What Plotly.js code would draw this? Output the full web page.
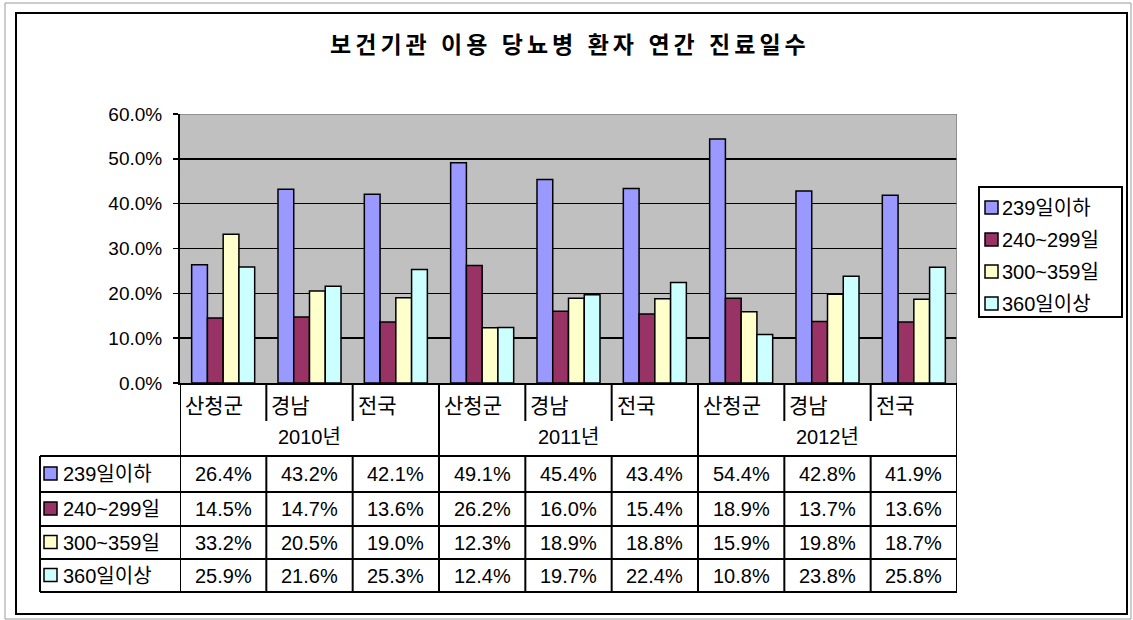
<!DOCTYPE html>
<html>
<head>
<meta charset="utf-8">
<script src="https://cdn.plot.ly/plotly-3.0.1.min.js"></script>
<style>
html,body{margin:0;padding:0;background:#fff;}
#chart{width:1133px;height:620px;}
#chart .gtitle{letter-spacing:4px;}
</style>
</head>
<body>
<div id="chart"></div>
<script>
// ---- data ----
var categories = ['산청군','경남','전국','산청군','경남','전국','산청군','경남','전국'];
var years = ['2010년','2011년','2012년'];
var seriesNames = ['239일이하','240~299일','300~359일','360일이상'];
var s239 = [26.4, 43.2, 42.1, 49.1, 45.4, 43.4, 54.4, 42.8, 41.9];
var s240 = [14.5, 14.7, 13.6, 26.2, 16.0, 15.4, 18.9, 13.7, 13.6];
var s300 = [33.2, 20.5, 19.0, 12.3, 18.9, 18.8, 15.9, 19.8, 18.7];
var s360 = [25.9, 21.6, 25.3, 12.4, 19.7, 22.4, 10.8, 23.8, 25.8];
var yTicks = [0, 10, 20, 30, 40, 50, 60];

// ---- styling ----
var W = 1133, H = 620;
var colors = ['#9999FF', '#993366', '#FFFFCC', '#CCFFFF'];
var FONT = 'Liberation Sans, Arial, "Noto Sans CJK KR", sans-serif';
var series = [s239, s240, s300, s360];
function px(x){ return x / W; }
function py(y){ return 1 - y / H; }

var idx = categories.map(function(_, i){ return i; });

var traces = series.map(function(vals, k){
  return {
    type: 'bar',
    name: seriesNames[k],
    x: idx,
    y: vals,
    marker: {color: colors[k], line: {color: '#000', width: 1.5}},
    hoverinfo: 'skip',
    showlegend: false
  };
});

var shapes = [];
var annotations = [];
function vline(x, y0, y1, color, w){
  shapes.push({type:'line', xref:'x', yref:'paper', x0:x, x1:x, y0:py(y0), y1:py(y1), line:{color:color||'#000', width:w||2}});
}
function hline(y, x0, x1, color, w){
  shapes.push({type:'line', xref:'paper', yref:'paper', x0:px(x0), x1:px(x1), y0:py(y), y1:py(y), line:{color:color||'#000', width:w||2}});
}
function keyBox(xl, yc, k){
  shapes.push({type:'rect', xref:'paper', yref:'paper', x0:px(xl), x1:px(xl+13), y0:py(yc+6), y1:py(yc-7),
    fillcolor:colors[k], line:{color:'#000', width:1.5}});
}

// frames
shapes.push({type:'rect', xref:'paper', yref:'paper', x0:px(5), x1:px(1131), y0:py(619), y1:py(3), line:{color:'#999', width:1}});
shapes.push({type:'rect', xref:'paper', yref:'paper', x0:px(16), x1:px(1127), y0:py(614), y1:py(13), line:{color:'#000', width:2}});

// plot area top/right border (gray)
shapes.push({type:'line', xref:'x', yref:'y', x0:-0.5, x1:categories.length-0.5, y0:60, y1:60, line:{color:'#808080', width:1.5}});
shapes.push({type:'line', xref:'x', yref:'y', x0:categories.length-0.5, x1:categories.length-0.5, y0:0, y1:60, line:{color:'#808080', width:1.5}});

// table geometry (pixels)
var catTop = 383, catDivBottom = 421, yearCenter = 437, tableTop = 456;
var rowLines = [456, 492, 526, 559, 592];
var tableLeft = 40, tableRight = 957;
var n = categories.length;

vline(-0.5, catTop, 592);
vline(n - 0.5, catTop, 592);
for (var i = 1; i < n; i++) {
  var xb = i - 0.5;
  if (i % 3 === 0) {
    vline(xb, catTop, 592);
  } else {
    vline(xb, catTop, catDivBottom);
    vline(xb, tableTop, 592);
  }
}
shapes.push({type:'line', xref:'paper', yref:'paper', x0:px(tableLeft), x1:px(tableLeft), y0:py(tableTop), y1:py(592), line:{color:'#000', width:2}});
rowLines.forEach(function(y){ hline(y, tableLeft, tableRight); });

// category labels
categories.forEach(function(c, i){
  annotations.push({xref:'x', yref:'paper', x:i-0.5, y:py(405), xanchor:'left', yanchor:'middle', xshift:3,
    text:c, showarrow:false, font:{family:FONT, size:21, color:'#000'}});
});
// year labels
years.forEach(function(yr, g){
  annotations.push({xref:'x', yref:'paper', x:g*3+1, y:py(yearCenter), xanchor:'center', yanchor:'middle',
    text:yr, showarrow:false, font:{family:FONT, size:20, color:'#000'}});
});
// data rows
series.forEach(function(vals, k){
  var yc = (rowLines[k] + rowLines[k+1]) / 2;
  keyBox(44, yc, k);
  annotations.push({xref:'paper', yref:'paper', x:px(61), y:py(yc), xanchor:'left', yanchor:'middle',
    text:seriesNames[k], showarrow:false, font:{family:FONT, size:20, color:'#000'}});
  vals.forEach(function(v, i){
    annotations.push({xref:'x', yref:'paper', x:i, y:py(yc), xanchor:'center', yanchor:'middle',
      text:v.toFixed(1) + '%', showarrow:false, font:{family:FONT, size:20, color:'#000'}});
  });
});

// legend (drawn box)
var legTop = 187, legBottom = 317, legLeft = 979, legRight = 1122;
shapes.push({type:'rect', xref:'paper', yref:'paper', x0:px(legLeft), x1:px(legRight), y0:py(legBottom), y1:py(legTop),
  fillcolor:'#fff', line:{color:'#000', width:2}});
seriesNames.forEach(function(nm, k){
  var yc = 208 + k * 32;
  keyBox(985, yc, k);
  annotations.push({xref:'paper', yref:'paper', x:px(1000), y:py(yc), xanchor:'left', yanchor:'middle',
    text:nm, showarrow:false, font:{family:FONT, size:20, color:'#000'}});
});

var layout = {
  width: W, height: H,
  margin: {l:0, r:0, t:0, b:0, pad:0},
  paper_bgcolor: '#fff',
  plot_bgcolor: '#C0C0C0',
  font: {family: FONT, size: 18, color: '#000'},
  title: {text: '<b>보건기관 이용 당뇨병 환자 연간 진료일수</b>', x: 0.503, xanchor:'center', y: py(45), yanchor:'middle',
          font: {family: FONT, size: 23, color: '#000'}},
  barmode: 'group',
  bargap: 0.27,
  bargroupgap: 0,
  showlegend: false,
  xaxis: {
    domain: [px(180), px(957)],
    range: [-0.5, n - 0.5],
    showticklabels: false,
    showgrid: false,
    zeroline: false,
    showline: true, linecolor:'#000', linewidth: 2,
    ticks: '', fixedrange: true
  },
  yaxis: {
    domain: [py(383), py(114)],
    range: [0, 60],
    tickvals: yTicks,
    ticktext: yTicks.map(function(t){ return t.toFixed(1) + '%'; }),
    ticks: 'outside', ticklen: 5, tickwidth: 1.5, tickcolor: '#000',
    ticklabelstandoff: 7,
    showgrid: true, gridcolor: '#000', gridwidth: 1.5,
    zeroline: false,
    showline: true, linecolor: '#000', linewidth: 2,
    tickfont: {family: FONT, size: 19, color: '#000'},
    fixedrange: true
  },
  shapes: shapes,
  annotations: annotations
};

Plotly.newPlot('chart', traces, layout, {staticPlot: true, displayModeBar: false});
</script>
</body>
</html>
